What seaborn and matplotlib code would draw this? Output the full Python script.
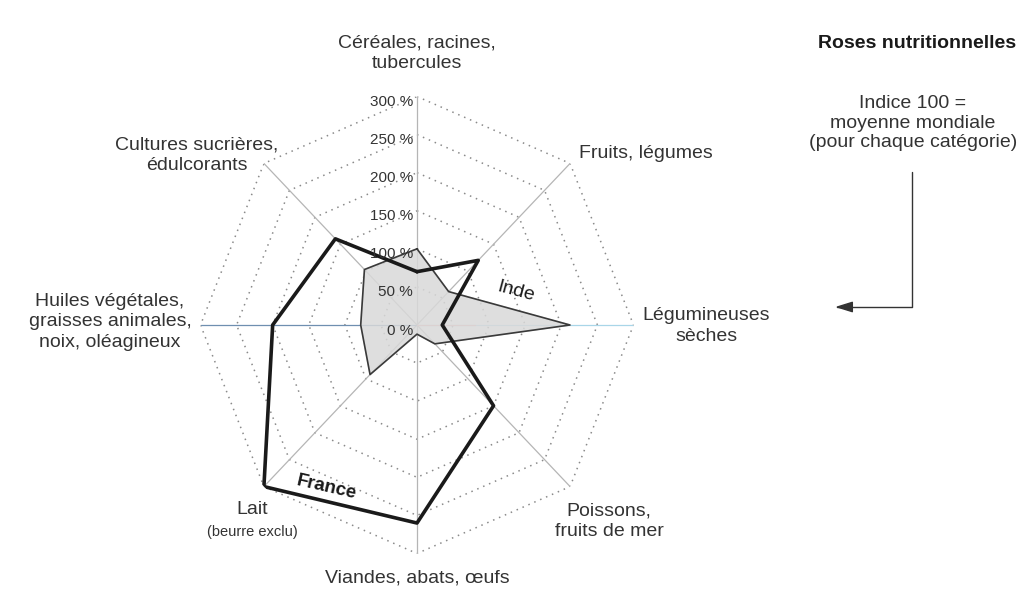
import numpy as np
import pandas as pd
import seaborn as sns
import matplotlib.pyplot as plt

sns.set_theme(style="white")
plt.rcParams["font.family"] = ["Liberation Sans", "DejaVu Sans"]

# --- data (index 100 = world average) ---
categories = [
    "Céréales, racines,\ntubercules",
    "Fruits, légumes",
    "Légumineuses\nsèches",
    "Poissons,\nfruits de mer",
    "Viandes, abats, œufs",
    "Lait",
    "Huiles végétales,\ngraisses animales,\nnoix, oléagineux",
    "Cultures sucrières,\nédulcorants",
]
france = [70, 120, 35, 150, 260, 300, 200, 160]
inde = [100, 62, 212, 35, 12, 92, 78, 103]
ring_values = [50, 100, 150, 200, 250, 300]
tick_labels = ["0 %", "50 %", "100 %", "150 %", "200 %", "250 %", "300 %"]

# label anchor points in pixels (x from left, y from top)
label_px = [(417, 53), (646, 153), (706, 326), (609, 521),
            (417, 578), (252, 509), (110, 322), (197, 155)]

W, H = 1023, 614
fig = plt.figure(figsize=(W / 100, H / 100), dpi=100)
fig.patch.set_facecolor("white")

cx, cy, rx, ry = 417, 325, 216.5, 228.5
ax = fig.add_axes([(cx - rx) / W, (H - cy - ry) / H, 2 * rx / W, 2 * ry / H],
                  projection="polar")
ax.set_aspect("auto")
ax.set_theta_offset(np.pi / 2)
ax.set_theta_direction(-1)
ax.set_ylim(0, 300)
ax.grid(False)
ax.spines["polar"].set_visible(False)
ax.patch.set_alpha(0)

n = len(categories)
angles = np.linspace(0, 2 * np.pi, n, endpoint=False)
closed = np.append(angles, 2 * np.pi)

# octagonal dotted rings
for r in ring_values:
    ax.plot(closed, [r] * (n + 1), color="#8a8a8a", lw=1.1,
            linestyle=(0, (1, 3.2)), zorder=1)

# spokes
spoke_colors = ["#b5b5b5", "#b5b5b5", "#a9d6e8", "#b5b5b5",
                "#b5b5b5", "#b5b5b5", "#6f8fb0", "#b5b5b5"]
for a, c in zip(angles, spoke_colors):
    ax.plot([a, a], [0, ring_values[-1]], color=c, lw=0.9, zorder=1)
ax.plot([angles[2], angles[2]], [0, 80], color="#e8a8a8", lw=0.9, zorder=1)

# both countries
df = pd.DataFrame({"theta": np.concatenate([closed, closed]),
                   "value": inde + inde[:1] + france + france[:1],
                   "pays": ["Inde"] * (n + 1) + ["France"] * (n + 1)})
ax.fill(closed, inde + inde[:1], color="#d9d9d9", alpha=0.85, zorder=2)
sns.lineplot(data=df[df.pays == "Inde"], x="theta", y="value", ax=ax,
             sort=False, estimator=None, color="#3a3a3a", lw=1.2, zorder=3)
sns.lineplot(data=df[df.pays == "France"], x="theta", y="value", ax=ax,
             sort=False, estimator=None, color="#1a1a1a", lw=2.6, zorder=4)
ax.set_xlabel("")
ax.set_ylabel("")
ax.set_xticks([])
ax.set_yticks([])
ax.set_ylim(0, 300)

# radial tick labels
for r, lab in zip([0] + ring_values, tick_labels):
    ax.annotate(lab, xy=(0, r), xytext=(-3, -4), textcoords="offset points",
                ha="right", va="center", fontsize=11, color="#333333", zorder=5)

# category labels
for lab, (x, y) in zip(categories, label_px):
    fig.text(x / W, 1 - y / H, lab, ha="center", va="center", fontsize=14,
             color="#333333", linespacing=1.25)
fig.text(252 / W, 1 - 532 / H, "(beurre exclu)", ha="center", va="center",
         fontsize=10.5, color="#333333")

# series labels
fig.text(516 / W, 1 - 292 / H, "Inde", ha="center", va="center", fontsize=14,
         rotation=-15, color="#1a1a1a")
fig.text(327 / W, 1 - 487 / H, "France", ha="center", va="center", fontsize=13.5,
         rotation=-13, fontweight="bold", color="#1a1a1a")

# side note
fig.text(917 / W, 1 - 44 / H, "Roses nutritionnelles", ha="center", va="center",
         fontsize=14, fontweight="bold", color="#1a1a1a")
fig.text(913 / W, 1 - 123 / H, "Indice 100 =\nmoyenne mondiale\n(pour chaque catégorie)",
         ha="center", va="center", fontsize=14, color="#333333", linespacing=1.2)
fig.add_artist(plt.Annotation(
    "", xy=(835 / W, 1 - 307 / H), xytext=(912 / W, 1 - 172 / H),
    xycoords="figure fraction", textcoords="figure fraction",
    arrowprops=dict(arrowstyle="-|>,head_length=0.9,head_width=0.28",
                    connectionstyle="angle,angleA=90,angleB=0,rad=0",
                    color="#333333", lw=1.0, shrinkA=0, shrinkB=0)))

fig.savefig("out.png", dpi=100, facecolor="white")
